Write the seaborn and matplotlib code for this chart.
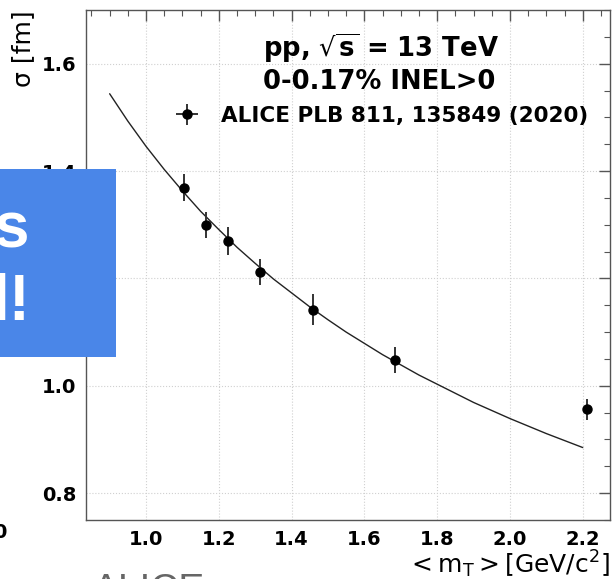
import matplotlib
matplotlib.use("Agg")
import matplotlib.pyplot as plt
from matplotlib.patches import Rectangle
from matplotlib.ticker import MultipleLocator
import seaborn as sns
import pandas as pd

# ALICE source-size measurement vs <mT>
mt = [1.104, 1.166, 1.226, 1.312, 1.459, 1.684, 2.211]
sigma = [1.369, 1.300, 1.269, 1.212, 1.142, 1.048, 0.956]
sigma_err = [0.025, 0.0245, 0.026, 0.025, 0.029, 0.024, 0.020]
mt_err = [0.0, 0.0, 0.0, 0.0, 0.0, 0.0, 0.0]

# Fitted scaling curve
fit_mt = [0.90, 0.95, 1.00, 1.05, 1.10, 1.15, 1.20, 1.25, 1.30, 1.35, 1.40,
          1.45, 1.50, 1.55, 1.60, 1.65, 1.70, 1.75, 1.80, 1.85, 1.90, 1.95,
          2.00, 2.05, 2.10, 2.15, 2.20]
fit_sigma = [1.544, 1.493, 1.446, 1.403, 1.363, 1.325, 1.291, 1.258, 1.228,
             1.199, 1.173, 1.147, 1.123, 1.100, 1.079, 1.058, 1.039, 1.020,
             1.003, 0.986, 0.969, 0.954, 0.939, 0.925, 0.911, 0.898, 0.885]

y_ticks = [0.8, 1.0, 1.2, 1.4, 1.6]
x_ticks = [1.0, 1.2, 1.4, 1.6, 1.8, 2.0, 2.2]

sns.set_style("white")
plt.rcParams["font.family"] = ["DejaVu Sans"]
plt.rcParams["mathtext.default"] = "regular"
plt.rcParams["text.color"] = "black"
plt.rcParams["axes.labelcolor"] = "black"

W, H = 612, 579
fig = plt.figure(figsize=(W / 100, H / 100), dpi=100)
ax = fig.add_axes([86 / W, (H - 520) / H, (610 - 86) / W, (520 - 10) / H])

fit_df = pd.DataFrame({"mt": fit_mt, "sigma": fit_sigma})
sns.lineplot(data=fit_df, x="mt", y="sigma", ax=ax, color="#222222",
             linewidth=1.0, zorder=2)

ax.errorbar(mt, sigma, yerr=sigma_err, xerr=mt_err, fmt="o", color="black",
            ecolor="#333333", elinewidth=1.4, markersize=6.5, capsize=0,
            zorder=3, label="ALICE PLB 811, 135849 (2020)")

ax.set_xlim(0.835, 2.275)
ax.set_ylim(0.75, 1.70)
ax.set_xticks(x_ticks)
ax.set_yticks(y_ticks)
ax.xaxis.set_minor_locator(MultipleLocator(0.05))
ax.yaxis.set_minor_locator(MultipleLocator(0.05))

spine_col = "#555555"
for s in ax.spines.values():
    s.set_color(spine_col)
    s.set_linewidth(1.0)
ax.tick_params(which="both", direction="in", top=True, right=True,
               color=spine_col, labelcolor="black")
ax.tick_params(which="major", length=8, width=1.0, labelsize=14, pad=7)
ax.tick_params(which="minor", length=4, width=0.8)
for lab in ax.get_xticklabels() + ax.get_yticklabels():
    lab.set_fontweight("bold")

ax.grid(True, which="major", color="#d0d0d0", linestyle=":", linewidth=0.8)

ax.set_xlabel(r"$<m_{T}>$[GeV/c$^{2}$]", fontsize=18, loc="right",
              labelpad=0)
ax.set_ylabel(r"σ [fm]", fontsize=18, loc="top", labelpad=5)

leg = ax.legend(loc="upper right", frameon=False,
                title="pp, $\\sqrt{\\mathbf{s}}$ = 13 TeV\n0-0.17% INEL>0",
                title_fontproperties={"size": 18.6, "weight": "bold"},
                prop={"size": 15.5, "weight": "bold"},
                handlelength=1.2, handletextpad=1.0, borderaxespad=0.6)
leg._legend_box.align = "center"
for t in leg.get_texts():
    t.set_color("black")
leg.get_title().set_color("black")

# Slide overlay elements around the plot
fig.add_artist(Rectangle((0, (H - 357) / H), 116 / W, (357 - 169) / H,
                         transform=fig.transFigure, facecolor="#4a86e8",
                         edgecolor="none", zorder=10))
fig.text(29 / W, (H - 247) / H, "s", ha="right", va="baseline",
         color="white", fontsize=46, fontweight="bold",
         family="Liberation Sans", zorder=11)
fig.text(31 / W, (H - 320) / H, "l!", ha="right", va="baseline",
         color="white", fontsize=46, fontweight="bold",
         family="Liberation Sans", zorder=11)
fig.text(6 / W, (H - 532) / H, "0", ha="right", va="center",
         color="black", fontsize=14, fontweight="bold", zorder=11)
fig.text(93 / W, (H - 601) / H, "ALICE", ha="left", va="baseline",
         color="#666666", fontsize=28, family="Liberation Sans", zorder=11)

fig.savefig("out.png", dpi=100)
